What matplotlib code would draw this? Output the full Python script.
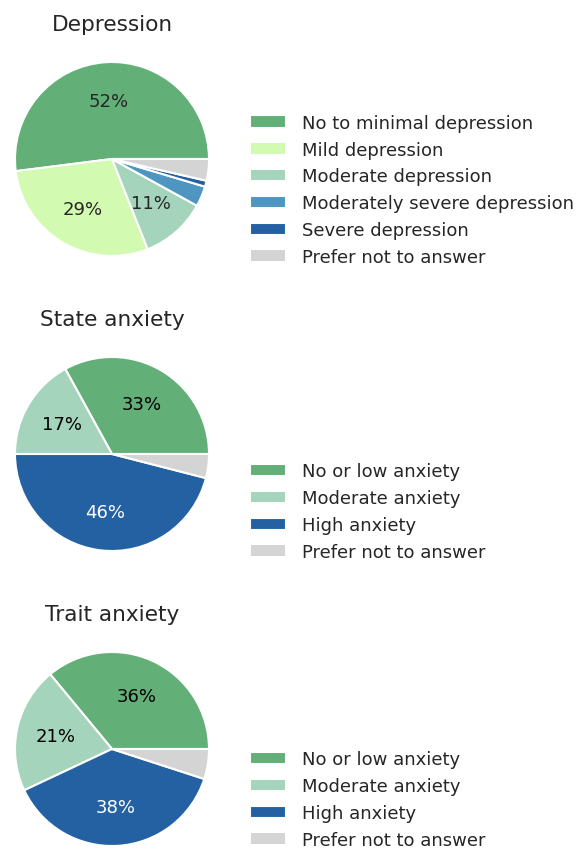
import matplotlib
matplotlib.use("Agg")
import matplotlib.pyplot as plt

# ---------------------------------------------------------
# Data (percent of respondents)
dep_labels = ["No to minimal depression", "Mild depression", "Moderate depression",
              "Moderately severe depression", "Severe depression", "Prefer not to answer"]
dep_values = [52.0, 29.0, 11.0, 3.4, 1.0, 3.6]

state_labels = ["No or low anxiety", "Moderate anxiety", "High anxiety", "Prefer not to answer"]
state_values = [33.0, 17.0, 46.0, 4.0]

trait_labels = ["No or low anxiety", "Moderate anxiety", "High anxiety", "Prefer not to answer"]
trait_values = [36.0, 21.0, 38.0, 5.0]

# colours
c_none = "#62af78"
c_mild = "#d2fab1"
c_mod = "#a4d4bb"
c_modsev = "#4e95c1"
c_sev = "#2461a3"
c_na = "#d4d4d4"
text_col = "#262626"

dep_colors = [c_none, c_mild, c_mod, c_modsev, c_sev, c_na]
anx_colors = [c_none, c_mod, c_sev, c_na]

W, H = 578, 853
fig = plt.figure(figsize=(W / 100, H / 100), dpi=100)


def pct_fmt(p):
    return "%d%%" % round(p) if p >= 10 else ""


def draw(cy, title, values, labels, colors, pct_colors, leg_shift=0):
    # cy = pie centre in pixels from top
    r = 97
    cx = 112
    ax = fig.add_axes([(cx - r) / W, (H - cy - r) / H, 2 * r / W, 2 * r / H])
    wedges, texts, autotexts = ax.pie(values, colors=colors, startangle=0, counterclock=True,
                                      autopct=pct_fmt, pctdistance=0.6,
                                      wedgeprops=dict(edgecolor="white", linewidth=1.5),
                                      textprops=dict(fontsize=13))
    for t, c in zip(autotexts, pct_colors):
        t.set_color(c)
    ax.set_xlim(-1, 1)
    ax.set_ylim(-1, 1)
    ax.set_aspect("equal")
    ax.set_title(title, fontsize=15.6, color=text_col, pad=23)
    ax.legend(wedges, labels, loc="lower left",
              bbox_to_anchor=(250 / W, (H - cy - r - 10 + leg_shift) / H),
              bbox_transform=fig.transFigure, frameon=False, borderaxespad=0, borderpad=0,
              fontsize=13, labelcolor=text_col, handlelength=2.0, handletextpad=0.9,
              labelspacing=0.49)


draw(160, "Depression", dep_values, dep_labels, dep_colors, [text_col] * 6)
draw(455, "State anxiety", state_values, state_labels, anx_colors,
     ["black", "black", "white", "black"])
draw(750, "Trait anxiety", trait_values, trait_labels, anx_colors,
     ["black", "black", "white", "black"], leg_shift=7)

fig.savefig("out.png", dpi=100)
